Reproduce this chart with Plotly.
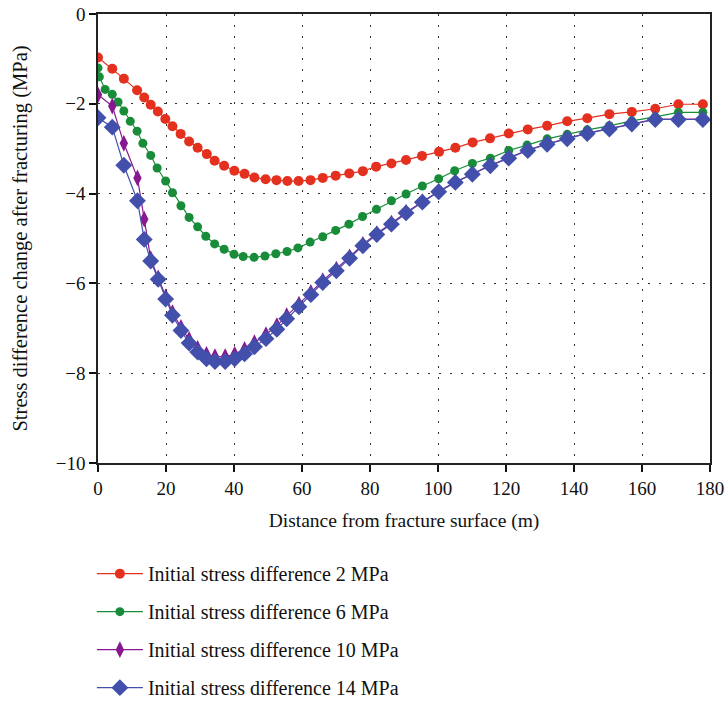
import plotly.graph_objects as go

# Distance from the fracture surface (m) and stress-difference change (MPa)
x_2mpa = [0, 4.2, 7.6, 11.5, 13.6, 15.5, 17.6, 19.8, 21.9, 24.3, 26.8, 29.3, 32.0, 34.3,
          37.1, 40.1, 43.1, 46.0, 49.3, 52.5, 55.7, 59.0, 62.5, 66.1, 69.9, 73.9, 77.9,
          81.8, 86.3, 90.6, 95.3, 100.3, 105.1, 110.2, 115.3, 120.8, 126.4, 132.1, 138.0,
          143.9, 150.4, 157.0, 163.9, 170.7, 177.9]
y_2mpa = [-0.97, -1.22, -1.44, -1.70, -1.86, -2.02, -2.17, -2.34, -2.50, -2.67, -2.84, -2.98,
          -3.12, -3.27, -3.38, -3.49, -3.56, -3.64, -3.68, -3.70, -3.72, -3.72, -3.70, -3.65,
          -3.60, -3.55, -3.50, -3.40, -3.33, -3.25, -3.16, -3.07, -2.98, -2.86, -2.77, -2.66,
          -2.57, -2.49, -2.39, -2.32, -2.23, -2.18, -2.11, -2.01, -2.01]

x_6mpa = [0, 0.4, 2.1, 4.2, 5.9, 7.6, 9.5, 11.5, 13.2, 15.5, 17.4, 19.9, 21.9, 24.4, 26.8,
          29.3, 31.7, 34.3, 37.1, 40.0, 42.7, 45.9, 49.1, 52.3, 55.6, 58.8, 62.4, 66.1, 69.9,
          73.8, 77.8, 81.9, 86.3, 90.6, 95.4, 100.2, 104.9, 110.1, 115.4, 120.8, 126.2, 132.1,
          138.0, 143.9, 150.4, 157.0, 163.9, 170.7, 177.9]
y_6mpa = [-1.20, -1.40, -1.68, -1.79, -1.96, -2.16, -2.39, -2.61, -2.88, -3.15, -3.43, -3.72,
          -3.98, -4.27, -4.53, -4.74, -4.95, -5.12, -5.24, -5.35, -5.40, -5.42, -5.39, -5.34,
          -5.29, -5.21, -5.08, -4.96, -4.82, -4.68, -4.51, -4.35, -4.16, -4.01, -3.83, -3.67,
          -3.49, -3.33, -3.21, -3.04, -2.92, -2.78, -2.68, -2.58, -2.49, -2.38, -2.29, -2.19,
          -2.19]

x_10mpa = [0, 4.2, 7.6, 11.6, 13.6, 15.5, 17.7, 19.9, 21.9, 24.4, 26.8, 29.3, 31.9, 34.4,
           37.4, 40.2, 43.1, 46.0, 49.4, 52.6, 55.5, 59.1, 62.6, 66.1, 70.1, 74.0, 77.9, 82.0,
           86.3, 90.6, 95.4, 100.2, 105.1, 110.1, 115.4, 120.8, 126.4, 132.1, 138.0, 143.9,
           150.4, 157.0, 163.9, 170.7, 177.9]
y_10mpa = [-1.80, -2.05, -2.88, -3.65, -4.57, -5.45, -5.88, -6.30, -6.65, -6.98, -7.25, -7.45,
           -7.58, -7.63, -7.63, -7.58, -7.47, -7.32, -7.14, -6.94, -6.72, -6.46, -6.20, -5.94,
           -5.68, -5.41, -5.13, -4.89, -4.66, -4.42, -4.18, -3.95, -3.74, -3.56, -3.37, -3.20,
           -3.03, -2.89, -2.77, -2.65, -2.55, -2.44, -2.34, -2.34, -2.34]

x_14mpa = x_10mpa
y_14mpa = [-2.31, -2.52, -3.37, -4.16, -5.02, -5.50, -5.91, -6.35, -6.71, -7.05, -7.33, -7.53,
           -7.68, -7.74, -7.74, -7.68, -7.57, -7.41, -7.23, -7.02, -6.79, -6.52, -6.25, -5.98,
           -5.72, -5.44, -5.16, -4.91, -4.68, -4.43, -4.19, -3.96, -3.75, -3.57, -3.38, -3.21,
           -3.04, -2.90, -2.78, -2.66, -2.56, -2.45, -2.35, -2.35, -2.35]

series = [
    ("Initial stress difference 2 MPa", x_2mpa, y_2mpa, "#e3301f", "circle", 10),
    ("Initial stress difference 6 MPa", x_6mpa, y_6mpa, "#188c38", "circle", 9),
    ("Initial stress difference 10 MPa", x_10mpa, y_10mpa, "#86198f", "diamond-tall", 12),
    ("Initial stress difference 14 MPa", x_14mpa, y_14mpa, "#4250ac", "diamond", 13),
]

FONT = "Liberation Serif"
INK = "#111111"

fig = go.Figure()
for i, (name, xs, ys, col, sym, size) in enumerate(series):
    fig.add_trace(go.Scatter(
        x=xs, y=ys, name=name, mode="lines+markers",
        legendgroup=f"g{i}",
        line=dict(color=col, width=1.2),
        marker=dict(symbol=sym, size=size, color=col, line=dict(width=0)),
    ))

axis_common = dict(
    showline=True, linecolor="#222222", linewidth=1.5, mirror=True,
    ticks="outside", ticklen=7, tickwidth=2, tickcolor=INK,
    showgrid=True, gridcolor="#333333", gridwidth=1, griddash="2px,9px",
    zeroline=False,
    tickfont=dict(family=FONT, size=19, color=INK),
)

fig.update_xaxes(
    range=[0, 180], dtick=20, tick0=0,
    title=dict(text="Distance from fracture surface (m)",
               font=dict(family=FONT, size=19.5, color=INK), standoff=16),
    **axis_common,
)
fig.update_yaxes(
    range=[-10, 0], dtick=2, tick0=0,
    title=dict(text="Stress difference change after fracturing (MPa)",
               font=dict(family=FONT, size=20.5, color=INK), standoff=23),
    **axis_common,
)

fig.update_layout(
    width=728, height=701,
    margin=dict(l=98, r=18, t=14, b=238, autoexpand=False),
    paper_bgcolor="white", plot_bgcolor="white",
    showlegend=True,
    legend=dict(
        x=-0.01, y=-0.203, xanchor="left", yanchor="top",
        orientation="v", tracegroupgap=9,
        font=dict(family=FONT, size=20, color=INK),
        bgcolor="rgba(0,0,0,0)", itemwidth=46,
    ),
)

fig.write_html("out.html")
